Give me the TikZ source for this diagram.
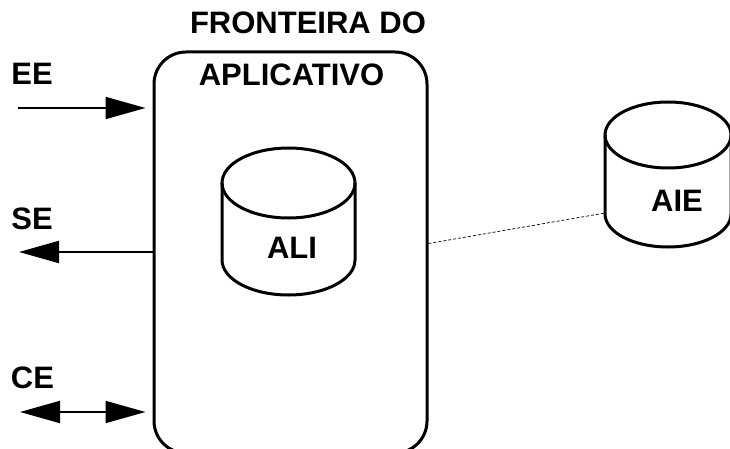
\documentclass[tikz,border=0pt]{standalone}
\usepackage{fontspec}
\setmainfont{Liberation Sans}
\usetikzlibrary{arrows.meta}

\begin{document}
\begin{tikzpicture}[x=1pt,y=-1pt,line width=2pt,
	>={Triangle[length=40pt,width=22pt]},
	font=\fontsize{31}{35}\selectfont\bfseries]
	\useasboundingbox (0,0) rectangle (730,449);
	\clip (0,0) rectangle (730,449);
	\node [draw,line width=3pt,rounded corners=32pt,inner sep=0pt,
		minimum width=273pt,minimum height=401pt] (box) at (290.5,252.5) {};
	\node (title1) at (308,23) {FRONTEIRA DO};
	\node (title2) at (291.5,75) {APLICATIVO};
	\node (EE) at (32,74) {EE};
	\node (SE) at (32,219) {SE};
	\node (CE) at (32.5,378) {CE};
	\coordinate (EEa) at (18,108);
	\coordinate (SEa) at (19,252);
	\coordinate (CEa) at (20,412);
	\draw [->,shorten >=7pt] (EEa) -- (EEa -| box.west);
	\draw [<-] (SEa) -- (SEa -| box.west);
	\draw [<->,shorten >=7pt] (CEa) -- (CEa -| box.west);
	% ALI
	\draw [line width=3pt] (222,183) -- (222,260) arc [start angle=180,end angle=0,x radius=66.5,y radius=35] -- (355,183);
	\draw [line width=3pt] (288.5,183) ellipse [x radius=66.5,y radius=35];
	\node (ALI) at (292,248) {ALI};
	% AIE
	\draw [line width=3pt] (605,135) -- (605,214) arc [start angle=180,end angle=0,x radius=63,y radius=33] -- (731,135);
	\draw [line width=3pt] (668,135) ellipse [x radius=63,y radius=33];
	\node (AIE) at (677,201) {AIE};
	\coordinate (AIEw) at (605,213);
	\draw [line width=0.7pt,densely dashed] ([yshift=9pt]box.east) -- (AIEw);
\end{tikzpicture}
\end{document}
